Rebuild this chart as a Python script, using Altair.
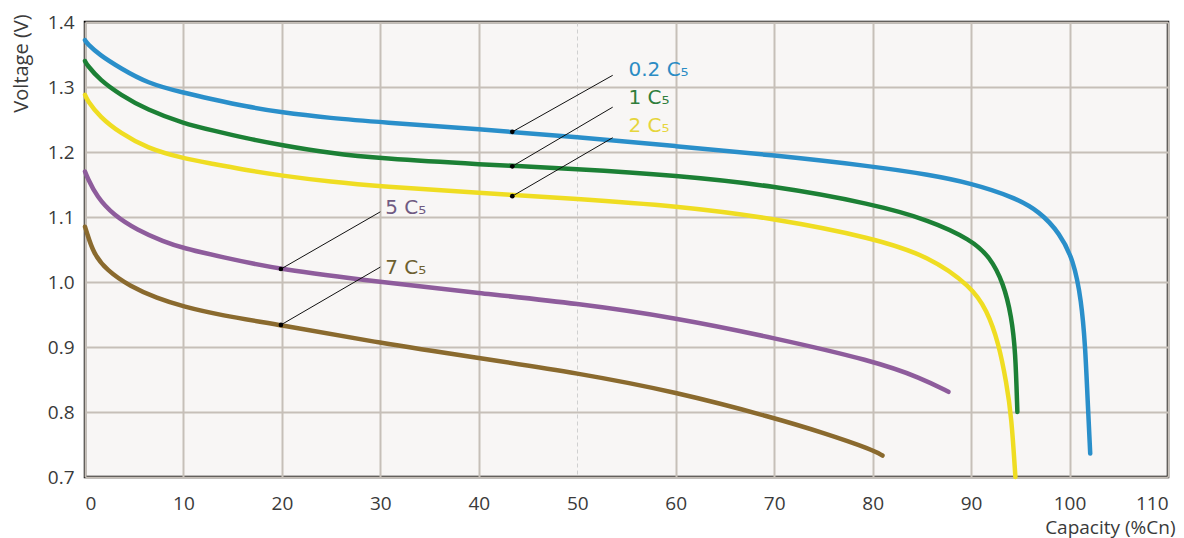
import altair as alt
import pandas as pd

series_names = ["0.2 C5", "1 C5", "2 C5", "5 C5", "7 C5"]
line_colors = ["#2a8fca", "#1c8035", "#efdd22", "#8e5c9c", "#8a6a2e"]

blue_x = [0, 0.2, 1.5, 3.6, 6.3, 10, 13, 16.4, 19.8, 25, 30, 40, 50, 60, 70, 80, 85.8, 90, 94.3, 97, 99, 100.4, 101.2, 101.6, 101.8, 102.1]
blue_y = [1.372, 1.367, 1.349, 1.329, 1.306, 1.291, 1.281, 1.270, 1.261, 1.252, 1.246, 1.235, 1.223, 1.209, 1.195, 1.178, 1.165, 1.152, 1.131, 1.108, 1.075, 1.034, 0.972, 0.900, 0.830, 0.736]

green_x = [0, 0.2, 1.5, 3.6, 6.3, 10, 13, 16.4, 19.8, 25, 30, 40, 50, 60, 70, 80, 85.8, 90, 91.9, 93.3, 94.1, 94.5, 94.7]
green_y = [1.340, 1.334, 1.311, 1.288, 1.265, 1.244, 1.233, 1.221, 1.211, 1.198, 1.190, 1.181, 1.174, 1.164, 1.148, 1.120, 1.095, 1.065, 1.039, 0.998, 0.947, 0.895, 0.800]

yellow_x = [0, 0.2, 1.5, 3.6, 6.3, 10, 13, 16.4, 19.8, 25, 30, 40, 50, 60, 70, 80, 85.8, 90, 91.6, 92.8, 93.6, 94.1, 94.5]
yellow_y = [1.288, 1.280, 1.254, 1.229, 1.206, 1.190, 1.182, 1.172, 1.164, 1.154, 1.147, 1.137, 1.128, 1.117, 1.098, 1.068, 1.039, 0.993, 0.957, 0.906, 0.844, 0.793, 0.700]

purple_x = [0, 0.2, 1.2, 2.9, 5.3, 8, 10, 13.7, 19.8, 30, 40, 50, 60, 70, 80, 85, 87.7]
purple_y = [1.170, 1.162, 1.131, 1.103, 1.080, 1.062, 1.052, 1.039, 1.019, 1.000, 0.983, 0.967, 0.945, 0.914, 0.879, 0.852, 0.831]

brown_x = [0, 0.17, 0.85, 2.2, 4.6, 7.3, 10, 13.7, 19.8, 30, 40, 50, 60, 70, 75, 80, 81]
brown_y = [1.085, 1.077, 1.044, 1.018, 0.993, 0.975, 0.962, 0.949, 0.934, 0.906, 0.883, 0.860, 0.831, 0.791, 0.768, 0.742, 0.733]

all_x = [blue_x, green_x, yellow_x, purple_x, brown_x]
all_y = [blue_y, green_y, yellow_y, purple_y, brown_y]

# annotation: marker point, leader end, label position
ann_x = [43.4, 43.4, 43.4, 19.9, 19.9]
ann_y = [1.231, 1.178, 1.132, 1.020, 0.934]
lead_x = [53.6, 53.6, 53.6, 30.0, 30.0]
lead_y = [1.318, 1.269, 1.222, 1.108, 1.023]
lab_x = [55.2, 55.2, 55.2, 30.5, 30.5]
lab_y = [1.326, 1.283, 1.240, 1.114, 1.022]
lab_text = ["0.2 C\u2085", "1 C\u2085", "2 C\u2085", "5 C\u2085", "7 C\u2085"]
lab_colors = ["#2b8cc4", "#2f7d3c", "#e6d53c", "#6f5a82", "#6d6030"]

x_ticks = list(range(0, 111, 10))
y_ticks = [0.7, 0.8, 0.9, 1.0, 1.1, 1.2, 1.3, 1.4]

rows = []
for name, xs, ys in zip(series_names, all_x, all_y):
    for i, (xv, yv) in enumerate(zip(xs, ys)):
        rows.append({"series": name, "x": xv, "y": yv, "i": i})
df = pd.DataFrame(rows)

ann = pd.DataFrame({
    "x": ann_x, "y": ann_y, "x2": lead_x, "y2": lead_y,
    "lx": lab_x, "ly": lab_y, "text": lab_text, "tc": lab_colors,
})

xscale = alt.Scale(domain=[0, 110], nice=False, zero=False)
yscale = alt.Scale(domain=[0.7, 1.4], nice=False, zero=False)

grid_color = {"condition": {"test": "datum.value === 50", "value": "#d0d0d0"}, "value": "#c6bfb8"}
grid_width = {"condition": {"test": "datum.value === 50", "value": 1}, "value": 2}
grid_dash = {"condition": {"test": "datum.value === 50", "value": [4, 3]}, "value": []}

x_axis = alt.Axis(values=x_ticks, grid=True, gridColor=grid_color, gridWidth=grid_width,
                  gridDash=grid_dash, domain=False, ticks=False, labelPadding=17,
                  labelFont="Open Sans", labelFontSize=19, labelColor="#3a3a3a",
                  title="Capacity (%Cn)", titleFont="Open Sans", titleFontSize=19,
                  titleFontWeight="normal", titleColor="#3a3a3a", titleAnchor="end",
                  titleAlign="right", titleBaseline="middle", titleX=1090, titleY=50)
y_axis = alt.Axis(values=y_ticks, format=".1f", grid=True, gridColor="#c6bfb8", gridWidth=2,
                  domain=False, ticks=False, labelPadding=11,
                  labelFont="Open Sans", labelFontSize=19, labelColor="#3a3a3a",
                  title="Voltage (V)", titleFont="Open Sans", titleFontSize=20,
                  titleFontWeight="normal", titleColor="#3a3a3a", titleAngle=270,
                  titleAlign="center", titleBaseline="middle", titleX=-64, titleY=41)

lines = alt.Chart(df).mark_line(strokeWidth=4.5, interpolate="basis", strokeCap="round").encode(
    x=alt.X("x:Q", scale=xscale, axis=x_axis),
    y=alt.Y("y:Q", scale=yscale, axis=y_axis),
    color=alt.Color("series:N", scale=alt.Scale(domain=series_names, range=line_colors), legend=None),
    order="i:Q",
)

leaders = alt.Chart(ann).mark_rule(color="#111111", strokeWidth=1).encode(
    x="x:Q", y="y:Q", x2="x2:Q", y2="y2:Q"
)

dots = alt.Chart(ann).mark_point(filled=True, color="#000000", size=22, opacity=1).encode(
    x="x:Q", y="y:Q"
)

labels = alt.Chart(ann).mark_text(align="left", baseline="middle", font="DejaVu Sans",
                                  fontSize=20).encode(
    x="lx:Q", y="ly:Q", text="text:N", color=alt.Color("tc:N", scale=None)
)

chart = alt.layer(lines, leaders, dots, labels).properties(
    width=1083, height=455,
    autosize=alt.AutoSizeParams(type="none"),
    padding={"left": 77, "top": 14, "right": 8, "bottom": 61},
    background="#ffffff",
).configure_view(
    fill="#f8f6f5", stroke="#000000", strokeWidth=2.5
)

chart.save("out.html", embed_options={"renderer": "svg", "actions": False})
